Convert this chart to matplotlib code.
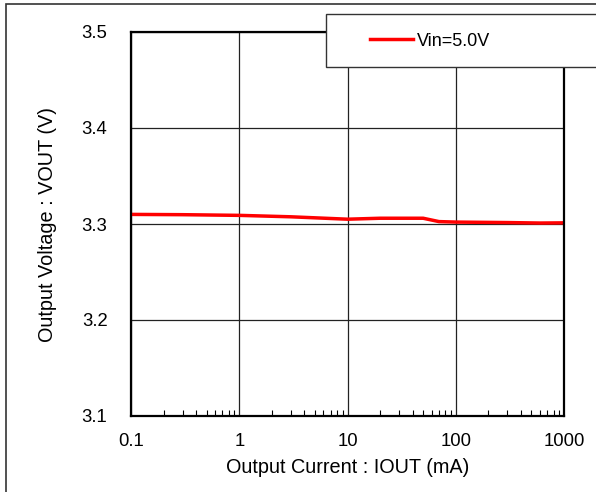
import matplotlib
matplotlib.use("Agg")
import matplotlib.pyplot as plt
from matplotlib.patches import Rectangle
from matplotlib.ticker import LogLocator, NullFormatter, FixedLocator, FixedFormatter

plt.rcParams['font.family'] = ['Liberation Sans', 'DejaVu Sans']

iout = [0.1, 0.3, 1, 3, 10, 20, 50, 70, 100, 300, 600, 1000]
vout = [3.310, 3.3097, 3.309, 3.3075, 3.305, 3.306, 3.306, 3.3025, 3.302, 3.3015, 3.301, 3.3012]
series_label = "Vin=5.0V"
xticks = [0.1, 1, 10, 100, 1000]
xtick_labels = ["0.1", "1", "10", "100", "1000"]
yticks = [3.1, 3.2, 3.3, 3.4, 3.5]
ytick_labels = ["3.1", "3.2", "3.3", "3.4", "3.5"]

W, H = 596, 492
fig = plt.figure(figsize=(W / 100, H / 100), dpi=100)

# outer frame
fig.patches.append(Rectangle((6 / W, -0.1), 1.2, 1.1 - 4 / H, transform=fig.transFigure,
                             fill=False, edgecolor='#333333', linewidth=1.2))
# clipped title
fig.text(15 / W, 1 + 17 / H, "(3) Output Voltage vs. Output Loading", fontsize=19,
         ha='left', va='baseline', color='black')

ax = fig.add_axes([131 / W, 1 - 416 / H, (564 - 131) / W, (416 - 32) / H])
ax.plot(iout, vout, color='#ff0000', linewidth=2.5, label=series_label)
ax.set_xscale('log')
ax.set_xlim(0.1, 1000)
ax.set_ylim(3.1, 3.5)
ax.xaxis.set_major_locator(FixedLocator(xticks))
ax.xaxis.set_major_formatter(FixedFormatter(xtick_labels))
ax.xaxis.set_minor_locator(LogLocator(base=10, subs=range(2, 10)))
ax.xaxis.set_minor_formatter(NullFormatter())
ax.yaxis.set_major_locator(FixedLocator(yticks))
ax.yaxis.set_major_formatter(FixedFormatter(ytick_labels))
ax.grid(True, which='major', color='#222222', linewidth=0.9)
ax.tick_params(axis='x', which='major', length=0, labelsize=13.3, pad=12)
ax.tick_params(axis='x', which='minor', direction='in', length=4, width=0.8, top=False)
ax.tick_params(axis='y', which='major', length=0, labelsize=13.3, pad=17)
for s in ax.spines.values():
    s.set_linewidth(1.6)
    s.set_color('black')
ax.set_xlabel("Output Current : IOUT (mA)", fontsize=14.3, labelpad=6)
ax.set_ylabel("Output Voltage : VOUT (V)", fontsize=14.3, labelpad=18)

# legend frame (extends past the right edge like the reference)
fig.patches.append(Rectangle((326 / W, 1 - 67 / H), 300 / W, 53 / H, transform=fig.transFigure,
                             facecolor='white', edgecolor='#333333', linewidth=1.0, zorder=5))
leg = fig.legend(loc='center left', bbox_to_anchor=(370 / W, 1 - 41 / H),
                 fontsize=13, frameon=False, handlelength=2.4, handletextpad=0.22,
                 borderpad=0, borderaxespad=0)
leg.set_zorder(6)

fig.savefig("out.png", dpi=100)
